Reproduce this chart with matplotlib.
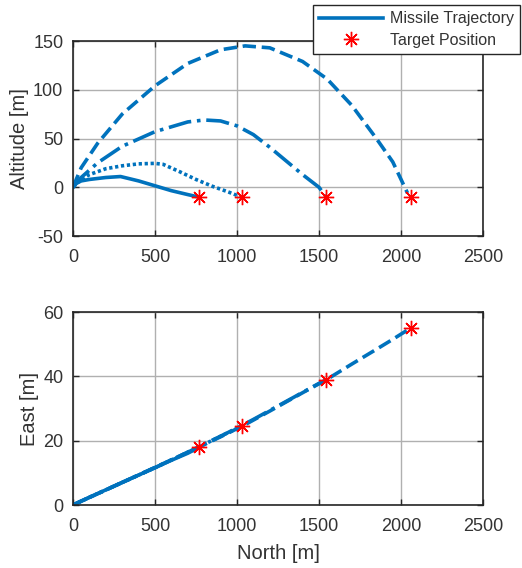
import matplotlib
matplotlib.use("Agg")
import matplotlib.pyplot as plt
from matplotlib.lines import Line2D

plt.rcParams['font.family'] = ['Liberation Sans', 'DejaVu Sans']
plt.rcParams['axes.unicode_minus'] = False

# ---- data ----
north1 = [0, 20, 50, 100, 200, 290, 400, 500, 600, 700, 765]
alt1 = [0, 4, 6.5, 8, 10, 11, 6.5, 1.5, -3.5, -7.5, -10]
east1 = [0, 0.5, 1.2, 2.4, 4.7, 6.8, 9.3, 11.6, 13.9, 16.1, 17.8]

north2 = [0, 30, 100, 200, 300, 400, 500, 550, 650, 750, 850, 950, 1025]
alt2 = [0, 5, 13, 19, 22, 24, 24.5, 23.5, 16, 8, 1, -5, -10]
east2 = [0, 0.7, 2.4, 4.7, 7.0, 9.3, 11.6, 12.8, 15.2, 17.6, 20.1, 22.6, 24.4]

north3 = [0, 50, 150, 300, 500, 700, 800, 900, 1000, 1100, 1200, 1300, 1400, 1500, 1540]
alt3 = [0, 10, 25, 42, 57, 67, 69, 68, 63, 54, 41, 27, 13, 0, -9]
east3 = [0, 1.2, 3.5, 7.0, 11.6, 16.4, 18.9, 21.4, 23.9, 26.6, 29.4, 32.2, 35.0, 37.8, 38.7]

north4 = [0, 50, 150, 300, 500, 700, 900, 1050, 1200, 1400, 1550, 1700, 1850, 1950, 2040]
alt4 = [0, 20, 45, 75, 104, 127, 141, 145, 143, 129, 111, 84, 50, 26, -6]
east4 = [0, 1.2, 3.5, 7.0, 11.7, 16.4, 21.2, 25.0, 29.2, 34.9, 39.1, 43.8, 48.4, 51.5, 54.4]

target_north = [770, 1030, 1545, 2060]
target_alt = [-10, -10, -10, -10]
target_east = [18, 24.5, 39, 55]

x_ticks = [0, 500, 1000, 1500, 2000, 2500]
alt_ticks = [-50, 0, 50, 100, 150]
east_ticks = [0, 20, 40, 60]

blue = '#0072BD'
txt = '#333333'
styles = ['-', (0, (0.9, 0.75)), '-.', '--']
norths = [north1, north2, north3, north4]
alts = [alt1, alt2, alt3, alt4]
easts = [east1, east2, east3, east4]

fig = plt.figure(figsize=(5.22, 5.68), dpi=100)
ax1 = fig.add_axes([0.1398, 0.5845, 0.7854, 0.3433])
ax2 = fig.add_axes([0.1398, 0.1109, 0.7854, 0.3398])

star = (8, 2, 0)
ms = 11
mew = 1.0
for n, a, e, ls in zip(norths, alts, easts, styles):
    ax1.plot(n, a, color=blue, lw=2.6, ls=ls)
    ax2.plot(n, e, color=blue, lw=2.6, ls=ls)
ax1.plot(target_north, target_alt, ls='none', marker=star, color='red', ms=ms, mew=mew)
ax2.plot(target_north, target_east, ls='none', marker=star, color='red', ms=ms, mew=mew)

for ax, yt in ((ax1, alt_ticks), (ax2, east_ticks)):
    ax.set_xlim(0, 2500)
    ax.set_ylim(yt[0], yt[-1])
    ax.set_xticks(x_ticks)
    ax.set_yticks(yt)
    ax.grid(True, color='#b0b0b0', lw=1.0)
    ax.set_axisbelow(True)
    ax.tick_params(direction='in', top=True, right=True, labelsize=13,
                   colors='#262626', labelcolor=txt, length=4, width=1.0)
    ax.tick_params(axis='y', pad=7)
    ax.tick_params(axis='x', pad=9.5)
    for sp in ax.spines.values():
        sp.set_color('#262626')
        sp.set_linewidth(1.2)

ax1.set_ylabel('Altitude [m]', fontsize=14.5, color=txt, labelpad=3)
ax2.set_ylabel('East [m]', fontsize=14.5, color=txt, labelpad=3)
ax2.set_xlabel('North [m]', fontsize=14.5, color=txt, labelpad=6)

handles = [Line2D([], [], color=blue, lw=2.6, ls='-'),
           Line2D([], [], color='red', ls='none', marker=star, ms=ms, mew=mew)]
leg = fig.legend(handles, ['Missile Trajectory', 'Target Position'],
                 loc='upper right', bbox_to_anchor=(520 / 522, 1 - 5 / 568),
                 bbox_transform=fig.transFigure, borderaxespad=0,
                 fancybox=False, edgecolor='#262626', framealpha=1,
                 fontsize=11.5, handlelength=4.0, labelspacing=0.4,
                 borderpad=0.4, handletextpad=0.4, labelcolor=txt)
leg.get_frame().set_linewidth(1.0)

fig.savefig('out.png', dpi=100)
